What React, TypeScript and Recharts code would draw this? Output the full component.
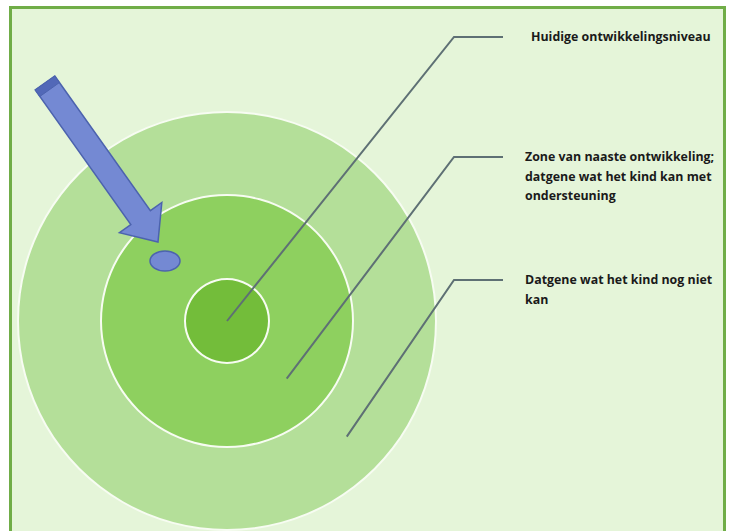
import { PieChart, Pie } from 'recharts'

// rings from inside out
const RING_NAMES = ['Huidig', 'Zone', 'Nog niet']
const RING_VALUES = [1, 1, 1]
const RING_RADII = [41, 125, 208]
const RING_COLORS = ['#73BD3A', '#8ED05F', '#B4DF99']

const LABELS = [
  ['Huidige ontwikkelingsniveau'],
  ['Zone van naaste ontwikkeling;', 'datgene wat het kind kan met', 'ondersteuning'],
  ['Datgene wat het kind nog niet', 'kan'],
]
const LABEL_Y = [37, 157, 280]

const W = 733
const H = 531
const CX = 227
const CY = 321
const LEADER_ANGLE = -44 // degrees, screen down-right
const ELBOW_X = 454
const LEADER_END_X = 503
const TEXT_X = [531, 525, 525]

const Annotations = () => {
  const rad = (LEADER_ANGLE * Math.PI) / 180
  const leaders = RING_RADII.map((r, i) => {
    const inner = i === 0 ? 0 : RING_RADII[i - 1]
    const mid = i === 0 ? 0 : (inner + r) / 2
    return {
      x: CX + mid * Math.cos(rad),
      y: CY - mid * Math.sin(rad),
    }
  })

  // block arrow
  const tail = { x: 45, y: 83 }
  const tip = { x: 158, y: 242 }
  const dx = tip.x - tail.x
  const dy = tip.y - tail.y
  const len = Math.hypot(dx, dy)
  const ux = dx / len
  const uy = dy / len
  const px = uy
  const py = -ux
  const shaftW = 12
  const headW = 26
  const headLen = 30
  const bx = tip.x - ux * headLen
  const by = tip.y - uy * headLen
  const pt = (x: number, y: number, s: number) => `${x + px * s},${y + py * s}`
  const arrow = [
    pt(tail.x, tail.y, shaftW),
    pt(bx, by, shaftW),
    pt(bx, by, headW),
    `${tip.x},${tip.y}`,
    pt(bx, by, -headW),
    pt(bx, by, -shaftW),
    pt(tail.x, tail.y, -shaftW),
  ].join(' ')
  const capD = 8
  const cap = [
    pt(tail.x, tail.y, shaftW),
    pt(tail.x + ux * capD, tail.y + uy * capD, shaftW),
    pt(tail.x + ux * capD, tail.y + uy * capD, -shaftW),
    pt(tail.x, tail.y, -shaftW),
  ].join(' ')

  return (
    <svg width={W} height={H} style={{ position: 'absolute', left: 0, top: 0 }}>
      {leaders.map((p, i) => (
        <polyline
          key={i}
          points={`${p.x},${p.y} ${ELBOW_X},${LABEL_Y[i]} ${LEADER_END_X},${LABEL_Y[i]}`}
          fill="none"
          stroke="#5E7074"
          strokeWidth={2}
        />
      ))}
      {LABELS.map((lines, i) => (
        <text
          key={i}
          x={TEXT_X[i]}
          y={LABEL_Y[i] + 4}
          fontFamily="'Open Sans', sans-serif"
          fontWeight={700}
          fontSize={12.4}
          fill="#1a1a1a"
        >
          {lines.map((l, j) => (
            <tspan key={j} x={TEXT_X[i]} dy={j === 0 ? 0 : 19.5}>
              {l}
            </tspan>
          ))}
        </text>
      ))}
      <polygon points={arrow} fill="#7489D3" stroke="#4C63AE" strokeWidth={1.5} strokeLinejoin="miter" />
      <polygon points={cap} fill="#5268B8" stroke="#4C63AE" strokeWidth={1} />
      <ellipse cx={165} cy={261} rx={15} ry={10} fill="#7489D3" stroke="#4C63AE" strokeWidth={1.5} />
    </svg>
  )
}

export default function App() {
  const rings = RING_NAMES.map((name, i) => ({ name, value: RING_VALUES[i] }))
  const order = [2, 1, 0]

  return (
    <div
      style={{
        position: 'absolute',
        left: 0,
        top: 0,
        width: W,
        height: H,
        overflow: 'hidden',
        background: '#ffffff',
      }}
    >
      <div
        style={{
          position: 'absolute',
          left: 9,
          top: 6,
          width: 711,
          height: 540,
          border: '3px solid #70AD47',
          background: '#E5F5D9',
        }}
      />
      <div style={{ position: 'absolute', left: 0, top: 0 }}>
        <PieChart width={W} height={H} margin={{ top: 0, right: 0, bottom: 0, left: 0 }}>
          {order.map((i) => [
            <Pie
              key={`w${i}`}
              data={[rings[i]]}
              dataKey="value"
              cx={CX}
              cy={CY}
              innerRadius={0}
              outerRadius={RING_RADII[i] + 2}
              startAngle={90}
              endAngle={-270}
              fill="#F7FCF2"
              stroke="none"
              isAnimationActive={false}
            />,
            <Pie
              key={`r${i}`}
              data={[rings[i]]}
              dataKey="value"
              cx={CX}
              cy={CY}
              innerRadius={0}
              outerRadius={RING_RADII[i]}
              startAngle={90}
              endAngle={-270}
              fill={RING_COLORS[i]}
              stroke="none"
              isAnimationActive={false}
            />,
          ])}
        </PieChart>
      </div>
      <Annotations />
    </div>
  )
}
